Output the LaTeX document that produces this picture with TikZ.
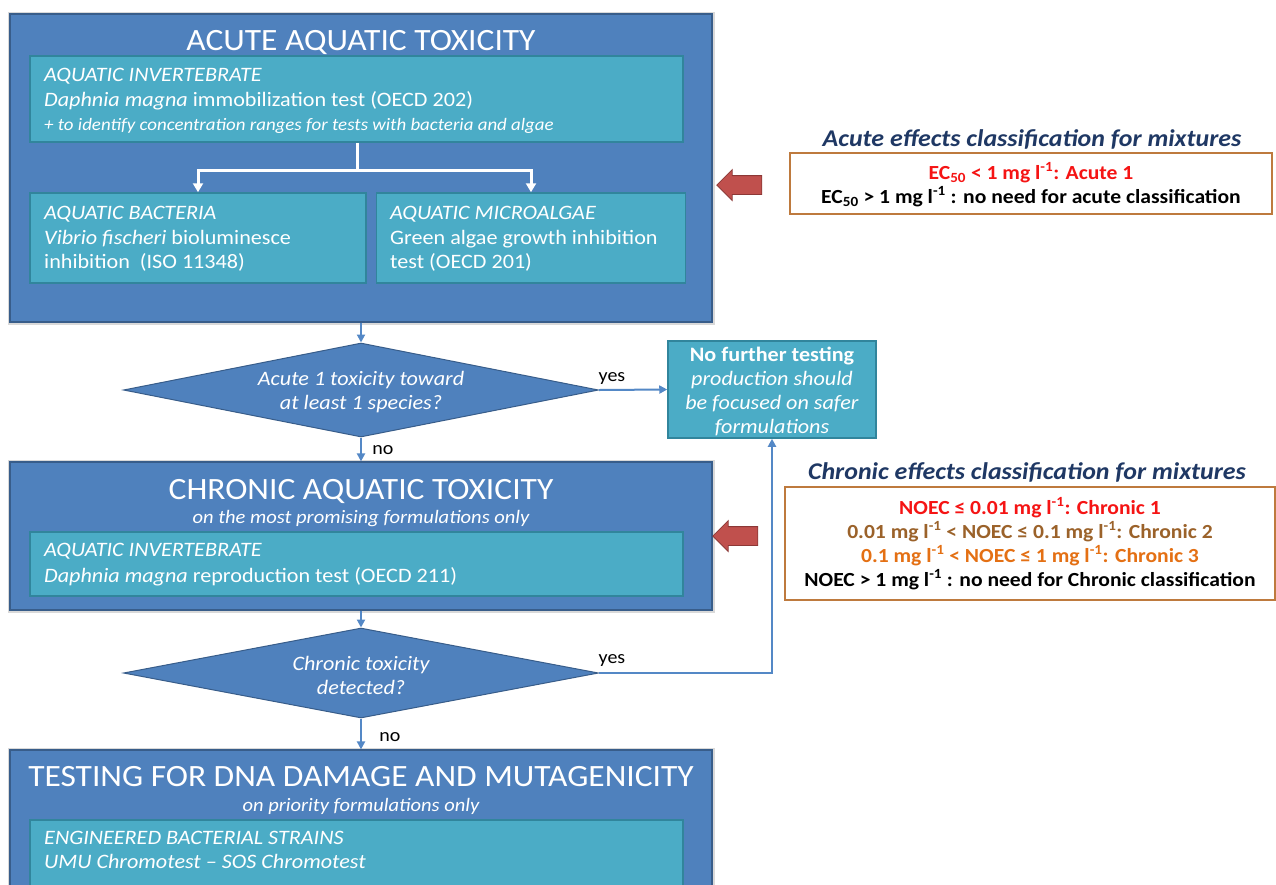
\documentclass[tikz,border=0pt]{standalone}
\usepackage{fontspec}
\setmainfont{Carlito}[FakeStretch=1.08]
\usetikzlibrary{shapes.geometric,shapes.arrows,arrows.meta}
\definecolor{bxblue}{RGB}{79,129,189}
\definecolor{bxblueD}{RGB}{56,93,138}
\definecolor{bxteal}{RGB}{75,172,198}
\definecolor{bxtealD}{RGB}{49,133,156}
\definecolor{ttlblue}{RGB}{31,56,100}
\definecolor{clsframe}{RGB}{190,122,62}
\definecolor{clsred}{RGB}{245,20,20}
\definecolor{clsbrown}{RGB}{155,98,42}
\definecolor{clsorange}{RGB}{228,112,20}
\definecolor{arrred}{RGB}{192,80,77}
\definecolor{arrredD}{RGB}{140,56,54}
\definecolor{connblue}{RGB}{84,136,198}
\tikzset{
  outerbox/.style={rectangle, fill=bxblue, draw=bxblueD, line width=1.2pt, inner sep=0pt,
    preaction={draw=black!15, line width=5pt}},
  innerbox/.style={rectangle, fill=bxteal, draw=bxtealD, line width=1.5pt, inner sep=0pt},
  txt/.style={anchor=west, inner sep=0pt, text=white, text height=0.7em, text depth=0.2em,
    yshift=-4pt, font=\fontsize{20.5}{22}\selectfont},
  txtit/.style={txt, font=\fontsize{20.5}{22}\selectfont\itshape},
  txtsmall/.style={txt, font=\fontsize{17.5}{19}\selectfont\itshape},
  bigtitle/.style={inner sep=0pt, text=white, yshift=-2pt, font=\fontsize{31}{33}\selectfont},
  subtitle/.style={inner sep=0pt, text=white, yshift=-2pt, font=\fontsize{19}{21}\selectfont\itshape},
  decision/.style={diamond, fill=bxblue, draw=bxblueD, line width=1pt, inner sep=0pt,
    minimum width=475pt},
  dtxt/.style={inner sep=0pt, text=white, yshift=-2pt, font=\fontsize{20.5}{24}\selectfont\itshape, align=center},
  conn/.style={draw=connblue, line width=2pt, -{Triangle[length=8pt,width=8pt]}},
  wconn/.style={draw=white, line width=3pt},
  lbl/.style={inner sep=0pt, text=black, yshift=-2.5pt, font=\fontsize{18.5}{20}\selectfont},
  clstitle/.style={inner sep=0pt, text=ttlblue, yshift=-2pt, font=\fontsize{24}{26}\selectfont\bfseries\itshape},
  clsbox/.style={rectangle, draw=clsframe, line width=2.2pt, fill=white, inner sep=0pt},
  clstxt/.style={inner sep=0pt, yshift=-4.5pt, font=\fontsize{20}{22}\selectfont\bfseries, text height=0.7em, text depth=0.2em},
  blockarrow/.style={single arrow, shape border rotate=180, fill=arrred, draw=arrredD, line width=0.8pt,
    minimum height=45pt, inner xsep=0pt, inner ysep=9pt, single arrow head extend=6pt, single arrow head indent=0pt}
}
\begin{document}
\begin{tikzpicture}[x=1pt,y=-1pt]
\useasboundingbox (0,0) rectangle (1276,884);
\clip (0,0) rectangle (1276,884);
\fill[white] (0,0) rectangle (1276,884);

% ---------- Acute block ----------
\node[outerbox, minimum width=702pt, minimum height=308pt] (acute) at (361,168) {};
\node[bigtitle] (acuteT) at (361,40) {ACUTE AQUATIC TOXICITY};
\node[innerbox, minimum width=653pt, minimum height=86pt] (inv) at (356.5,99) {};
\node[txtit] (inv1) at (44,75) {AQUATIC INVERTEBRATE};
\node[txt] (inv2) at (44,100) {\textit{Daphnia magna} immobilization test (OECD 202)};
\node[txtsmall] (inv3) at (44,124) {+ to identify concentration ranges for tests with bacteria and algae};
\node[innerbox, minimum width=336pt, minimum height=90pt] (bact) at (198,238) {};
\node[txtit] (bact1) at (44,213) {AQUATIC BACTERIA};
\node[txt] (bact2) at (44,238) {\textit{Vibrio fischeri} bioluminesce};
\node[txt] (bact3) at (44,262) {inhibition\ \ (ISO 11348)};
\node[innerbox, minimum width=309pt, minimum height=90pt] (alg) at (531,238) {};
\node[txtit] (alg1) at (390,213) {AQUATIC MICROALGAE};
\node[txt] (alg2) at (390,238) {Green algae growth inhibition};
\node[txt] (alg3) at (390,262) {test (OECD 201)};
\coordinate (split) at (357,170);
\draw[wconn] (inv.south -| split) -- (split);
\draw[wconn, -{Triangle[length=9pt,width=10pt]}] (split) -| (bact.north);
\draw[wconn, -{Triangle[length=9pt,width=10pt]}] (split) -| (alg.north);

% ---------- Decision 1 ----------
\node[decision, minimum height=94pt] (d1) at (361,390) {};
\node[dtxt] (d1t) at (361,390) {Acute 1 toxicity toward\\at least 1 species?};
\node[innerbox, minimum width=208pt, minimum height=97pt] (nofur) at (772,389.5) {};
\node[inner sep=0pt, text=white, align=center, yshift=-1pt, font=\fontsize{20.5}{24}\selectfont] (nofurT) at (772,390)
  {\textbf{No further testing}\\\textit{production should}\\\textit{be focused on safer}\\\textit{formulations}};
\draw[conn] (acute.south) -- (d1.north);
\draw[conn] (d1.east) -- (nofur.west);
\node[lbl] (yes1) at (612,376) {yes};

% ---------- Chronic block ----------
\node[outerbox, minimum width=702pt, minimum height=148pt] (chronic) at (361,536) {};
\draw[conn] (d1.south) -- (chronic.north);
\node[lbl] (no1) at (383,448) {no};
\node[bigtitle] (chronT) at (361,489) {CHRONIC AQUATIC TOXICITY};
\node[subtitle] (chronS) at (361,517) {on the most promising formulations only};
\node[innerbox, minimum width=653pt, minimum height=64pt] (chrinv) at (356.5,564) {};
\node[txtit] (chr1) at (44,550) {AQUATIC INVERTEBRATE};
\node[txt] (chr2) at (44,576) {\textit{Daphnia magna} reproduction test (OECD 211)};

% ---------- Decision 2 ----------
\node[decision, minimum height=90pt] (d2) at (361,673) {};
\node[dtxt] (d2t) at (361,673) {Chronic toxicity\\detected?};
\draw[conn] (chronic.south) -- (d2.north);
\draw[conn] (d2.east) -| (nofur.south);
\node[lbl] (yes2) at (612,658) {yes};

% ---------- DNA block ----------
\node[outerbox, minimum width=702pt, minimum height=160pt] (dna) at (361,830) {};
\draw[conn] (d2.south) -- (dna.north);
\node[lbl] (no2) at (390,735) {no};
\node[bigtitle] (dnaT) at (361,775) {TESTING FOR DNA DAMAGE AND MUTAGENICITY};
\node[subtitle] (dnaS) at (361,804) {on priority formulations only};
\node[innerbox, minimum width=653pt, minimum height=90pt] (dnainv) at (356.5,865) {};
\node[txtit] (dna1) at (44,838) {ENGINEERED BACTERIAL STRAINS};
\node[txtit] (dna2) at (44,862) {UMU Chromotest -- SOS Chromotest};

% ---------- Acute classification ----------
\node[clstitle] (acT) at (1032,137) {Acute effects classification for mixtures};
\node[clsbox, minimum width=482pt, minimum height=61pt] (acbox) at (1031,183.5) {};
\node[clstxt, text=clsred] (ac1) at (1031,172) {EC\textsubscript{50} < 1 mg l\textsuperscript{-1}: Acute 1};
\node[clstxt, text=black] (ac2) at (1031,196) {EC\textsubscript{50} > 1 mg l\textsuperscript{-1} : no need for acute classification};
\node[blockarrow] (ra1) at (744,185) {};

% ---------- Chronic classification ----------
\node[clstitle] (ccT) at (1027,470) {Chronic effects classification for mixtures};
\node[clsbox, minimum width=490pt, minimum height=113pt] (ccbox) at (1030,543.5) {};
\node[clstxt, text=clsred] (cc1) at (1030,507) {NOEC ≤ 0.01 mg l\textsuperscript{-1}: Chronic 1};
\node[clstxt, text=clsbrown] (cc2) at (1030,531) {0.01 mg l\textsuperscript{-1} < NOEC ≤ 0.1 mg l\textsuperscript{-1}: Chronic 2};
\node[clstxt, text=clsorange] (cc3) at (1030,555) {0.1 mg l\textsuperscript{-1} < NOEC ≤ 1 mg l\textsuperscript{-1}: Chronic 3};
\node[clstxt, text=black] (cc4) at (1030,579) {NOEC > 1 mg l\textsuperscript{-1} : no need for Chronic classification};
\node[blockarrow] (ra2) at (740,536) {};
\end{tikzpicture}
\end{document}
